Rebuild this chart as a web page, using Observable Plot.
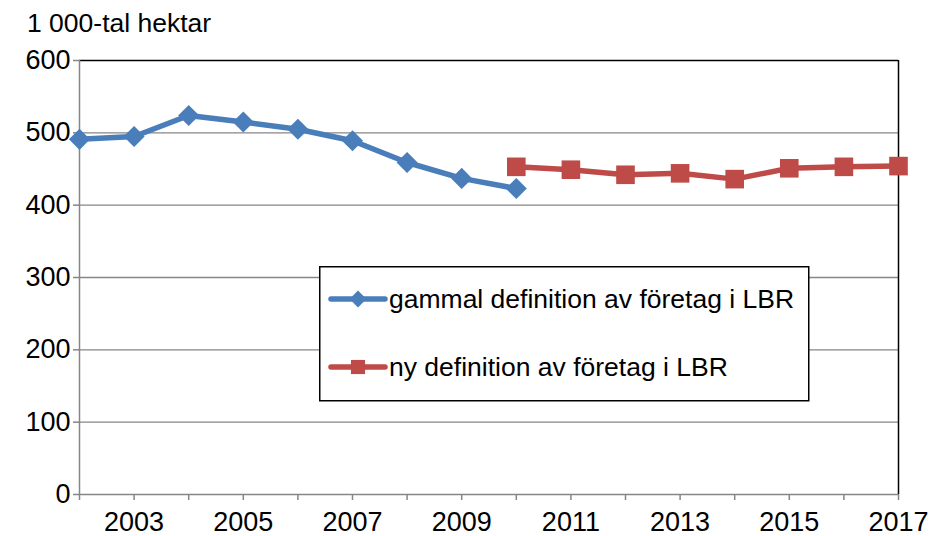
<!DOCTYPE html>
<html>
<head>
<meta charset="utf-8">
<script src="https://cdn.jsdelivr.net/npm/d3@7"></script>
<script src="https://cdn.jsdelivr.net/npm/@observablehq/plot@0.6"></script>
<style>
  html, body { margin: 0; padding: 0; background: #fff; }
  #wrap { position: relative; width: 930px; height: 536px; font-family: Arial, "Liberation Sans", sans-serif; }
  #title { position: absolute; left: 27px; top: 10px; font-size: 26.5px; line-height: 27px; color: #000; white-space: nowrap; }
  #legend { position: absolute; left: 319px; top: 266px; }
</style>
</head>
<body>
<div id="wrap">
  <div id="chart"></div>
  <div id="title">1 000-tal hektar</div>
  <div id="legend"></div>
</div>
<script>
// ---- data ----
const oldYears  = [2002, 2003, 2004, 2005, 2006, 2007, 2008, 2009, 2010];
const oldValues = [491, 495, 524, 515, 505, 489, 459, 437, 423];
const newYears  = [2010, 2011, 2012, 2013, 2014, 2015, 2016, 2017];
const newValues = [453, 449, 442, 444, 436, 451, 453, 454];
const yTicks = [0, 100, 200, 300, 400, 500, 600];
const xTickYears = [2002, 2003, 2004, 2005, 2006, 2007, 2008, 2009, 2010, 2011, 2012, 2013, 2014, 2015, 2016, 2017];
const xLabelYears = [2003, 2005, 2007, 2009, 2011, 2013, 2015, 2017];
const seriesNames = ["gammal definition av företag i LBR", "ny definition av företag i LBR"];
const seriesColors = ["#4a7ebb", "#be4b48"];

const oldData = oldYears.map((y, i) => ({year: y, value: oldValues[i]}));
const newData = newYears.map((y, i) => ({year: y, value: newValues[i]}));

const gridGray = "#868686";
const FONT = "Arial, 'Liberation Sans', sans-serif";

const chart = Plot.plot({
  width: 930,
  height: 536,
  marginLeft: 79,
  marginRight: 32,
  marginTop: 60,
  marginBottom: 42,
  style: {fontFamily: FONT, fontSize: "27px", color: "#000", background: "#fff", overflow: "visible"},
  x: {domain: [2002, 2017]},
  y: {domain: [0, 600]},
  marks: [
    Plot.ruleY(yTicks.filter(v => v > 0 && v < 600), {stroke: gridGray, strokeWidth: 1.3}),
    Plot.ruleY([600], {stroke: "#000", strokeWidth: 1.3}),
    Plot.ruleX([2017], {stroke: "#000", strokeWidth: 1.5}),
    Plot.ruleX([2002], {stroke: gridGray, strokeWidth: 1.5}),
    Plot.ruleY([0], {stroke: gridGray, strokeWidth: 1.5}),
    Plot.axisY({ticks: yTicks, tickSize: 6, tickPadding: 3, stroke: gridGray, strokeWidth: 1.5, label: null, fontSize: 27}),
    Plot.axisX({ticks: xTickYears, tickSize: 6, tickFormat: () => "", stroke: gridGray, strokeWidth: 1.5, label: null}),
    Plot.axisX({ticks: xLabelYears, tickSize: 0, tickPadding: 17, tickFormat: d => String(d), label: null, fontSize: 27}),
    Plot.line(oldData, {x: "year", y: "value", stroke: seriesColors[0], strokeWidth: 5.5}),
    Plot.dot(oldData, {x: "year", y: "value", symbol: "diamond2", r: 9.5, fill: seriesColors[0], stroke: null}),
    Plot.line(newData, {x: "year", y: "value", stroke: seriesColors[1], strokeWidth: 5.5}),
    Plot.dot(newData, {x: "year", y: "value", symbol: "square", r: 10.5, fill: seriesColors[1], stroke: null})
  ]
});
document.getElementById("chart").appendChild(chart);

// ---- legend ----
const lg = d3.select("#legend").append("svg").attr("width", 492).attr("height", 137);
lg.append("rect").attr("x", 0.75).attr("y", 0.75).attr("width", 489).attr("height", 134)
  .attr("fill", "#fff").attr("stroke", "#000").attr("stroke-width", 1.5);
const rowsY = [33, 101];
seriesNames.forEach((name, i) => {
  const g = lg.append("g").attr("transform", `translate(0,${rowsY[i]})`);
  g.append("line").attr("x1", 12).attr("x2", 66).attr("y1", 0).attr("y2", 0)
    .attr("stroke", seriesColors[i]).attr("stroke-width", 5.5).attr("stroke-linecap", "round");
  const sym = i === 0 ? d3.symbolDiamond2 : d3.symbolSquare;
  const size = i === 0 ? 180 : 200;
  g.append("path").attr("d", d3.symbol(sym, size)()).attr("transform", "translate(39,0)").attr("fill", seriesColors[i]);
  g.append("text").attr("x", 70).attr("y", 0).attr("dy", "0.35em")
    .attr("font-family", FONT).attr("font-size", 26.5).attr("fill", "#000").text(name);
});
</script>
</body>
</html>
